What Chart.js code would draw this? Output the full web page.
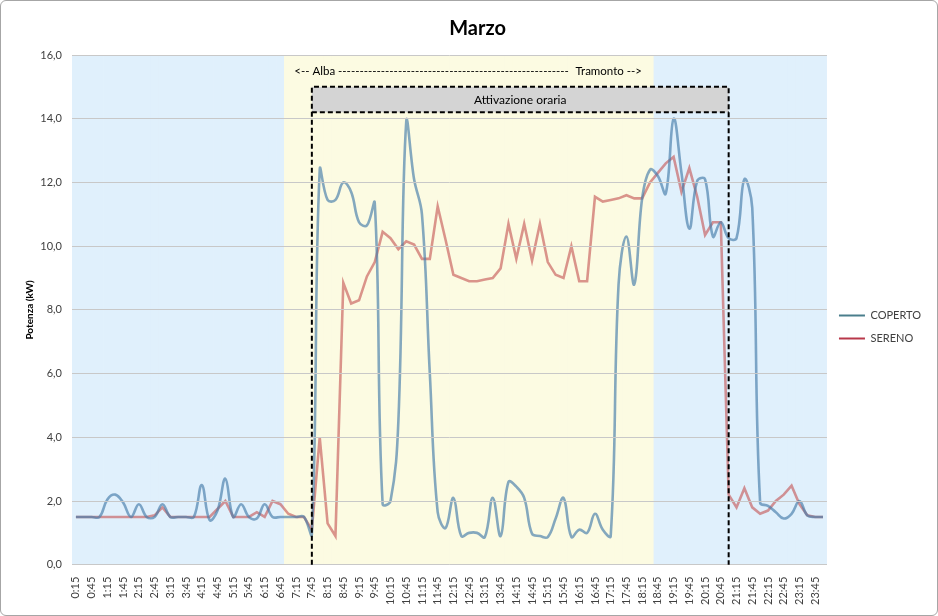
<!DOCTYPE html>
<html>
<head>
<meta charset="utf-8">
<script src="https://cdn.jsdelivr.net/npm/chart.js@4.4.0/dist/chart.umd.min.js"></script>
<style>
  body { margin: 0; background: #fff; }
  #box { position: absolute; left: 0; top: 0; width: 936px; height: 614px;
         border: 1px solid #a6a6a6; border-radius: 6px; overflow: hidden; background: #fff; }
</style>
</head>
<body>
<div id="box"><canvas id="grafico" width="936" height="614"></canvas></div>
<script>
// dati ogni 15 minuti
var orari = [
  '0:15','0:30','0:45','1:00','1:15','1:30','1:45','2:00','2:15','2:30','2:45','3:00',
  '3:15','3:30','3:45','4:00','4:15','4:30','4:45','5:00','5:15','5:30','5:45','6:00',
  '6:15','6:30','6:45','7:00','7:15','7:30','7:45','8:00','8:15','8:30','8:45','9:00',
  '9:15','9:30','9:45','10:00','10:15','10:30','10:45','11:00','11:15','11:30','11:45','12:00',
  '12:15','12:30','12:45','13:00','13:15','13:30','13:45','14:00','14:15','14:30','14:45','15:00',
  '15:15','15:30','15:45','16:00','16:15','16:30','16:45','17:00','17:15','17:30','17:45','18:00',
  '18:15','18:30','18:45','19:00','19:15','19:30','19:45','20:00','20:15','20:30','20:45','21:00',
  '21:15','21:30','21:45','22:00','22:15','22:30','22:45','23:00','23:15','23:30','23:45','24:00'
];

var coperto = [
  1.5,1.5,1.5,1.5,2.05,2.2,1.95,1.5,1.9,1.5,
  1.5,1.9,1.5,1.5,1.5,1.5,2.5,1.4,1.7,2.7,
  1.5,1.9,1.5,1.45,1.9,1.5,1.5,1.5,1.5,1.5,
  0.95,12.4,11.45,11.45,12.0,11.7,10.75,10.65,11.35,1.9,
  2.0,4.5,13.9,12.1,11.0,6.0,1.65,1.15,2.1,0.9,
  1.0,1.0,0.87,2.1,0.9,2.6,2.45,2.1,0.97,0.9,
  0.87,1.45,2.1,0.87,1.1,1.0,1.6,1.1,0.9,8.8,
  10.3,8.8,11.5,12.4,12.2,11.65,14.0,12.3,10.55,12.05,
  12.1,10.3,10.75,10.25,10.25,12.1,11.2,1.95,1.85,1.65,
  1.45,1.6,2.0,1.55,1.5,1.5
];

var sereno = [
  1.5,1.5,1.5,1.5,1.5,1.5,1.5,1.5,1.5,1.5,
  1.55,1.8,1.5,1.5,1.5,1.5,1.5,1.5,1.75,2.0,
  1.5,1.5,1.5,1.65,1.5,2.0,1.9,1.6,1.5,1.5,
  1.1,4.0,1.3,0.9,8.85,8.2,8.3,9.05,9.5,10.45,
  10.25,9.9,10.15,10.05,9.6,9.6,11.25,10.2,9.1,9.0,
  8.9,8.9,8.95,9.0,9.3,10.7,9.6,10.7,9.55,10.7,
  9.5,9.1,9.0,10.0,8.9,8.9,11.55,11.4,11.45,11.5,
  11.6,11.5,11.5,12.0,12.3,12.6,12.8,11.7,12.45,11.55,
  10.35,10.75,10.75,2.2,1.8,2.4,1.8,1.6,1.7,2.0,
  2.2,2.48,1.9,1.55,1.5,1.5
];

// fasce orarie
var alba = '7:00', tramonto = '18:45';
var inizioAttivazione = '7:45', fineAttivazione = '21:00';
var yMax = 16;

var iAlba = orari.indexOf(alba), iTramonto = orari.indexOf(tramonto);
var sfondo = [], coloriSfondo = [];
for (var i = 0; i < orari.length; i++) {
  sfondo.push(yMax);
  coloriSfondo.push(i >= iAlba && i < iTramonto ? '#fcfbe2' : '#e0f0fc');
}

var fontBase = 'Lato, "Open Sans", sans-serif';

var annotazioni = {
  id: 'annotazioni',
  afterDraw: function(chart) {
    var ctx = chart.ctx, x = chart.scales.x, y = chart.scales.y;
    var xa = x.getPixelForValue(orari.indexOf(inizioAttivazione));
    var xb = x.getPixelForValue(orari.indexOf(fineAttivazione));
    var yTop = y.getPixelForValue(15), yBand = y.getPixelForValue(14.2), yBase = y.getPixelForValue(0);
    ctx.save();
    // banda grigia
    ctx.fillStyle = '#d4d4d4';
    ctx.fillRect(xa, yTop, xb - xa, yBand - yTop);
    ctx.strokeStyle = '#000';
    ctx.lineWidth = 2;
    ctx.setLineDash([5, 3]);
    ctx.beginPath();
    ctx.moveTo(xa, yBase); ctx.lineTo(xa, yTop); ctx.lineTo(xb, yTop); ctx.lineTo(xb, yBase);
    ctx.moveTo(xa, yBand); ctx.lineTo(xb, yBand);
    ctx.stroke();
    ctx.setLineDash([]);
    ctx.fillStyle = '#000';
    ctx.font = '12px ' + fontBase;
    ctx.textAlign = 'center';
    ctx.textBaseline = 'middle';
    ctx.fillText('Attivazione oraria', (xa + xb) / 2, (yTop + yBand) / 2 + 1);

    // alba / tramonto
    var half = (x.getPixelForValue(1) - x.getPixelForValue(0)) / 2;
    var xl = x.getPixelForValue(iAlba) - half + 10;
    var xr = x.getPixelForValue(iTramonto) - half - 12;
    var yt = y.getPixelForValue(15.5);
    ctx.font = '11.5px ' + fontBase;
    var sx = '<-- Alba ', dx = ' Tramonto -->';
    var wl = ctx.measureText(sx).width, wr = ctx.measureText(dx).width;
    var trattini = '';
    while (ctx.measureText(trattini + '-').width < xr - xl - wl - wr) trattini += '-';
    ctx.textAlign = 'left';
    ctx.fillText(sx + trattini, xl, yt);
    ctx.textAlign = 'right';
    ctx.fillText(dx, xr, yt);
    ctx.restore();
  }
};

var coloriLegenda = ['#4a7e8c', '#b8384a'];

new Chart(document.getElementById('grafico'), {
  type: 'line',
  data: {
    labels: orari,
    datasets: [
      { label: 'COPERTO', data: coperto, borderColor: 'rgba(70,125,170,0.66)', backgroundColor: 'rgba(70,125,170,0.66)',
        borderWidth: 2.6, pointRadius: 0, tension: 0.4, order: 1 },
      { label: 'SERENO', data: sereno, borderColor: 'rgba(195,80,80,0.6)', backgroundColor: 'rgba(195,80,80,0.6)',
        borderWidth: 2.6, pointRadius: 0, tension: 0, order: 2 },
      { type: 'bar', label: 'sfondo', data: sfondo, backgroundColor: coloriSfondo, borderWidth: 0,
        barPercentage: 1, categoryPercentage: 1, order: 3 }
    ]
  },
  options: {
    responsive: false,
    animation: false,
    layout: { padding: { left: 23, top: 4, right: 6, bottom: 6 } },
    plugins: {
      title: { display: true, text: 'Marzo', color: '#000',
        font: { family: fontBase, size: 20, weight: 'bold' }, padding: { top: 12, bottom: 14 } },
      legend: {
        position: 'right',
        title: { display: true, text: ' ', font: { size: 10 }, padding: { top: 14, bottom: 14 } },
        labels: {
          boxWidth: 26, boxHeight: 2, padding: 12,
          font: { family: fontBase, size: 11 }, color: '#404040',
          generateLabels: function(chart) {
            return [0, 1].map(function(k) {
              return { text: chart.data.datasets[k].label, fillStyle: coloriLegenda[k], strokeStyle: coloriLegenda[k],
                lineWidth: 0, hidden: false, datasetIndex: k, fontColor: '#404040' };
            });
          }
        }
      },
      tooltip: { enabled: false }
    },
    scales: {
      x: {
        offset: true,
        grid: { display: false },
        border: { color: '#bfbfbf' },
        ticks: {
          autoSkip: false, minRotation: 90, maxRotation: 90, color: '#404040', padding: 4,
          font: { family: fontBase, size: 11 },
          callback: function(v, idx) { return idx % 2 === 0 ? orari[idx] : ''; }
        }
      },
      y: {
        min: 0, max: yMax,
        afterFit: function(scale) { scale.width = 48; },
        grid: { color: '#c8c8c8', drawTicks: false, z: 1 },
        border: { display: false },
        ticks: {
          stepSize: 2, color: '#404040', padding: 10,
          font: { family: fontBase, size: 11 },
          callback: function(v) { return v.toFixed(1).replace('.', ','); }
        },
        title: { display: true, text: 'Potenza (kW)', color: '#000',
          font: { family: fontBase, size: 10, weight: 'bold' }, padding: { top: 0, bottom: 0 } }
      }
    }
  },
  plugins: [annotazioni]
});
</script>
</body>
</html>
